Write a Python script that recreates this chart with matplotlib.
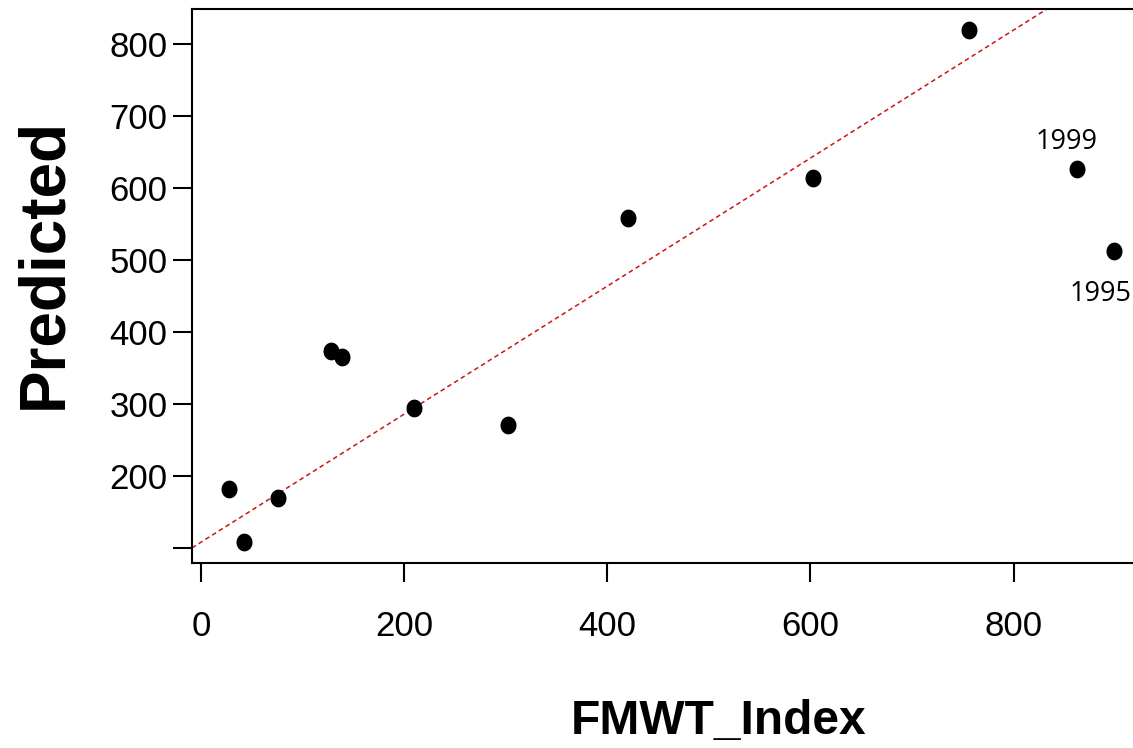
import matplotlib
matplotlib.use("Agg")
import matplotlib.pyplot as plt
import numpy as np
from matplotlib.path import Path

# ---- data ----
fmwt_index = [27.2, 41.9, 75.4, 128.0, 138.4, 209.7, 302.2, 419.9, 602.5, 755.7, 862.4, 898.4]
predicted = [181.7, 107.9, 169.6, 373.9, 364.7, 293.7, 270.2, 557.5, 613.3, 819.4, 626.7, 511.9]
point_years = ["", "", "", "", "", "", "", "", "", "", "1999", "1995"]
line_intercept = 107.9
line_slope = 0.889
x_ticks = [0, 200, 400, 600, 800]
y_ticks = [100, 200, 300, 400, 500, 600, 700, 800]
y_tick_labels = ["", "200", "300", "400", "500", "600", "700", "800"]

W, H = 1133, 748
fig = plt.figure(figsize=(W / 100, H / 100), dpi=100)
ax = fig.add_axes([192 / W, (H - 562.7) / H, (1149 - 192) / W, (562.7 - 9.3) / H])

# slightly tall elliptical marker
t = np.linspace(0, 2 * np.pi, 60)
ell = Path(np.column_stack([0.45 * np.cos(t), 0.5 * np.sin(t)]), closed=True)

ax.axline((0, line_intercept), slope=line_slope, color="#cc1414", lw=1.1,
          linestyle=(0, (3, 2.2)), zorder=2)
ax.plot(fmwt_index, predicted, linestyle="none", marker=ell, markersize=12.8,
        color="black", markeredgewidth=0, zorder=3)

offsets = {"1999": (-7.2, 19.2), "1995": (-9.6, -30.7)}
for xv, yv, lab in zip(fmwt_index, predicted, point_years):
    if lab:
        ax.annotate(lab, (xv, yv), xytext=offsets[lab], textcoords="offset points",
                    ha="center", va="center", fontsize=19.5, family="Open Sans",
                    annotation_clip=False)

xr = max(fmwt_index) - min(fmwt_index)
yr = max(predicted) - min(predicted)
ax.set_xlim(min(fmwt_index) - 0.04 * xr - 1.2, max(fmwt_index) + 0.04 * xr)
ax.set_ylim(min(predicted) - 0.04 * yr, max(predicted) + 0.04 * yr)

ax.set_xticks(x_ticks)
ax.set_xticklabels([str(v) for v in x_ticks])
ax.set_yticks(y_ticks)
ax.set_yticklabels(y_tick_labels)

for s in ax.spines.values():
    s.set_linewidth(1.5)
ax.tick_params(axis="both", direction="out", length=13.7, width=1.5, labelsize=25)
ax.tick_params(axis="x", pad=20)
ax.tick_params(axis="y", pad=4)
for lbl in ax.get_xticklabels() + ax.get_yticklabels():
    lbl.set_family("Liberation Sans")

fig.text(719 / W, 1 - 722 / H, "FMWT_Index", ha="center", va="center",
         fontsize=34.5, fontweight="bold", family="Liberation Sans")
fig.text(44 / W, 1 - 263 / H, "Predicted", ha="center", va="center", rotation=90,
         fontsize=46, fontweight="bold", family="Liberation Sans")

fig.savefig("out.png", dpi=100)
